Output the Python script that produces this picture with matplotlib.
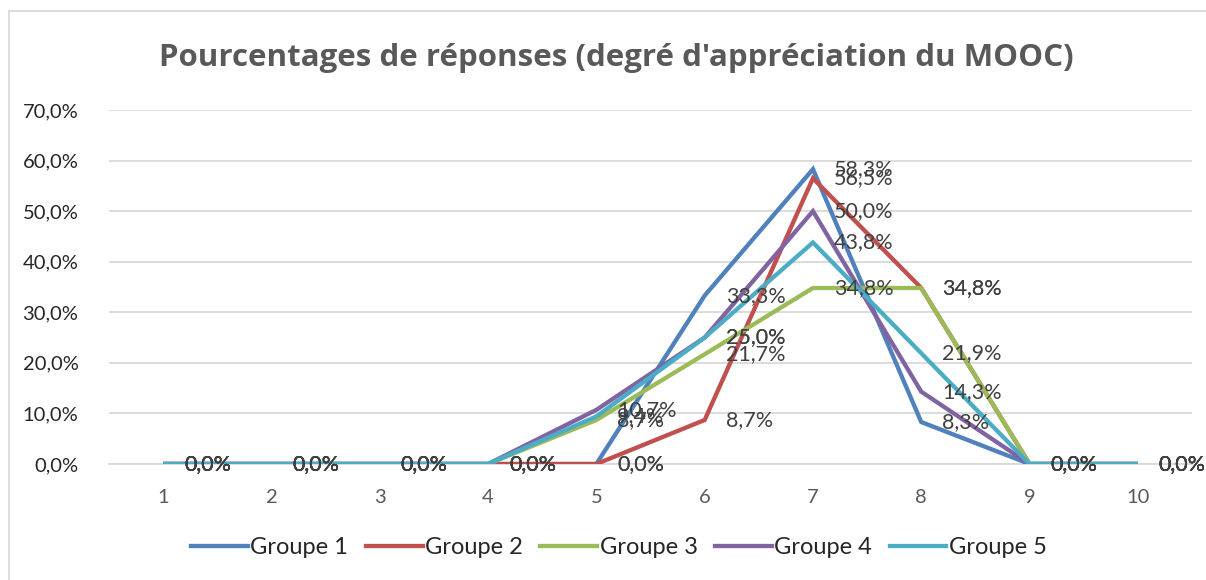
import matplotlib
matplotlib.use("Agg")
import matplotlib.pyplot as plt
from matplotlib.lines import Line2D

categories = [1, 2, 3, 4, 5, 6, 7, 8, 9, 10]
series_names = ["Groupe 1", "Groupe 2", "Groupe 3", "Groupe 4", "Groupe 5"]
groupe1 = [0.0, 0.0, 0.0, 0.0, 0.0, 33.3, 58.3, 8.3, 0.0, 0.0]
groupe2 = [0.0, 0.0, 0.0, 0.0, 0.0, 8.7, 56.5, 34.8, 0.0, 0.0]
groupe3 = [0.0, 0.0, 0.0, 0.0, 8.7, 21.7, 34.8, 34.8, 0.0, 0.0]
groupe4 = [0.0, 0.0, 0.0, 0.0, 10.7, 25.0, 50.0, 14.3, 0.0, 0.0]
groupe5 = [0.0, 0.0, 0.0, 0.0, 9.4, 25.0, 43.8, 21.9, 0.0, 0.0]
series = [groupe1, groupe2, groupe3, groupe4, groupe5]
colors = ["#4F81BD", "#C0504D", "#9BBB59", "#8064A2", "#4BACC6"]
yticks = [0, 10, 20, 30, 40, 50, 60, 70]

W, H = 1206, 580
fig = plt.figure(figsize=(W / 100, H / 100), dpi=100)
ax = fig.add_axes([109 / W, 1 - 464 / H, (1192 - 109) / W, (464 - 110) / H])

font = "Lato"
for vals, col in zip(series, colors):
    ax.plot(categories, vals, color=col, lw=3.1, solid_capstyle="butt", solid_joinstyle="miter", zorder=3)

for vals in series:
    for x, v in zip(categories, vals):
        ax.annotate(f"{v:.1f}%".replace(".", ","), (x, v), xytext=(21, 0), textcoords="offset pixels",
                    ha="left", va="center", fontsize=15.5, color="#404040", family=font, zorder=5,
                    annotation_clip=False)

ax.set_xlim(0.5, 10.5)
ax.set_ylim(0, 70)
ax.set_yticks(yticks)
ax.set_yticklabels([f"{t:.1f}%".replace(".", ",") for t in yticks], family=font, fontsize=14.5, color="#262626")
ax.set_xticks(categories)
ax.set_xticklabels([str(c) for c in categories], family=font, fontsize=14.5, color="#595959")
ax.tick_params(axis="y", length=0, pad=22)
ax.tick_params(axis="x", length=0, pad=18)
ax.grid(axis="y", color="#D9D9D9", lw=1.3, zorder=0)
for s in ["top", "right", "left"]:
    ax.spines[s].set_visible(False)
ax.spines["bottom"].set_color("#D9D9D9")
ax.spines["bottom"].set_linewidth(1.3)
ax.set_axisbelow(True)

fig.text(616 / W, 1 - 58 / H, "Pourcentages de réponses (degré d'appréciation du MOOC)",
         ha="center", va="center", fontsize=22.5, fontweight="bold", color="#595959", family="Open Sans")

handles = [Line2D([0], [0], color=c, lw=3.1) for c in colors]
leg = fig.legend(handles, series_names, loc="center", bbox_to_anchor=(619 / W, 1 - 548 / H), ncol=5,
                 frameon=False, handlelength=2.4, columnspacing=0.75, handletextpad=0.1,
                 prop={"family": font, "size": 17})
for t in leg.get_texts():
    t.set_color("#262626")

# chart border
fig.add_artist(Line2D([9 / W, 9 / W], [0, 1 - 11 / H], transform=fig.transFigure, color="#D9D9D9", lw=1.3))
fig.add_artist(Line2D([9 / W, 1], [1 - 11 / H, 1 - 11 / H], transform=fig.transFigure, color="#D9D9D9", lw=1.3))

fig.savefig("out.png", dpi=100)
